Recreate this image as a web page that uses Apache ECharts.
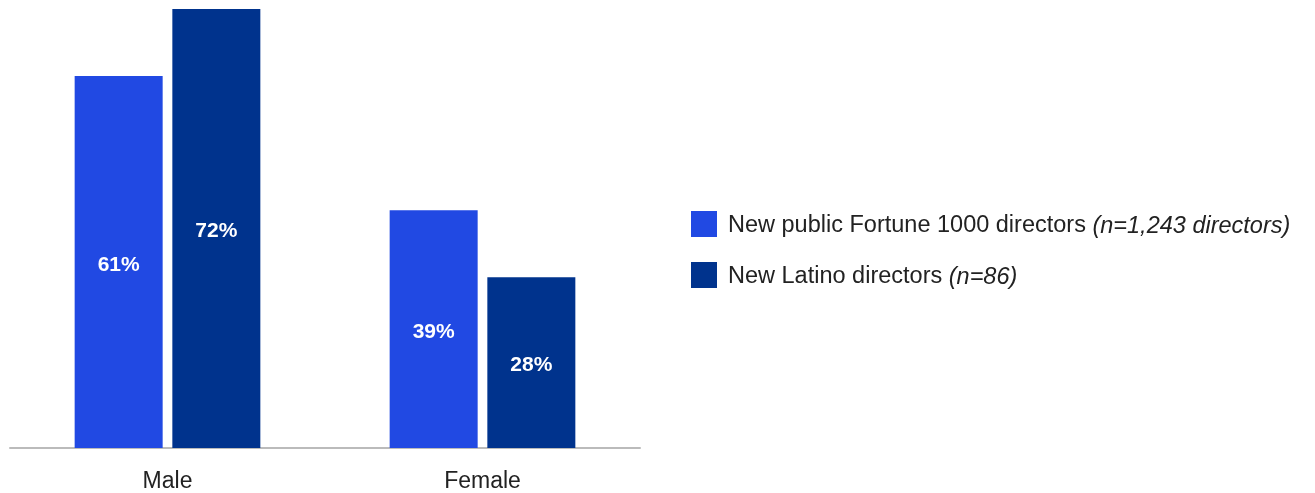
<!DOCTYPE html>
<html>
<head>
<meta charset="utf-8">
<script src="https://cdn.jsdelivr.net/npm/echarts@6/dist/echarts.min.js"></script>
<style>
  html, body { margin: 0; padding: 0; background: #fff; }
  #chart { width: 1315px; height: 493px; }
</style>
</head>
<body>
<div id="chart"></div>
<script>
// données du graphique
const categories = ["Male", "Female"];
const seriesNames = ["New public Fortune 1000 directors", "New Latino directors"];
const seriesNotes = ["(n=1,243 directors)", "(n=86)"];
const fortuneValues = [61, 39];
const latinoValues = [72, 28];

let barChart = null;

document.addEventListener("DOMContentLoaded", () => {
	barChart = echarts.init(document.querySelector("#chart"));

	const labelStyle = {
		show: true,
		position: "inside",
		offset: [0, 3],
		color: "#fff",
		fontWeight: "bold",
		fontSize: 21,
		fontFamily: "Liberation Sans",
		formatter: "{c}%",
	};

	barChart.setOption({
		animation: false,
		textStyle: { fontFamily: "Liberation Sans" },
		grid: {
			left: 10,
			right: 675,
			top: 9,
			bottom: 45,
		},
		legend: {
			orient: "vertical",
			left: 691,
			top: 211,
			padding: 0,
			itemWidth: 26,
			itemHeight: 26,
			itemGap: 24,
			icon: "rect",
			formatter: (name) => {
				const i = seriesNames.indexOf(name);
				return "{n|" + name + " }{i|" + seriesNotes[i] + "}";
			},
			textStyle: {
				rich: {
					n: { fontSize: 23.5, color: "#222", fontFamily: "Liberation Sans", padding: [4, 0, 0, 6] },
					i: { fontSize: 23.5, color: "#222", fontFamily: "Liberation Sans", fontStyle: "italic", padding: [4, 0, 0, 0] },
				},
			},
		},
		xAxis: {
			type: "category",
			data: categories,
			axisLine: { lineStyle: { color: "#bbb", width: 2 } },
			axisTick: { show: false },
			axisLabel: { fontSize: 23, color: "#222", margin: 22 },
		},
		yAxis: {
			type: "value",
			min: 0,
			max: 72,
			show: false,
			splitLine: { show: false },
		},
		series: [
			{
				name: seriesNames[0],
				type: "bar",
				data: fortuneValues,
				barWidth: 88,
				barGap: "11%",
				itemStyle: { color: "#2149E3" },
				label: labelStyle,
			},
			{
				name: seriesNames[1],
				type: "bar",
				data: latinoValues,
				barWidth: 88,
				itemStyle: { color: "#00338D" },
				label: labelStyle,
			},
		],
	});
});
</script>
</body>
</html>
